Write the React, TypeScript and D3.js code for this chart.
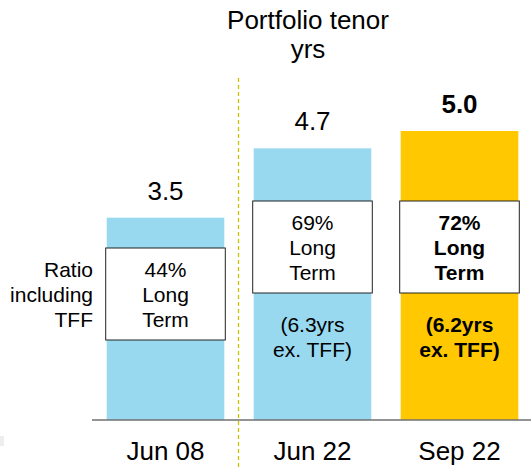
import React from "react";
import * as d3 from "d3";

const categories = ["Jun 08", "Jun 22", "Sep 22"];
const tenor = [3.5, 4.7, 5.0];
const longTermPct = ["44%", "69%", "72%"];
const exTff = ["", "(6.3yrs", "(6.2yrs"];
const barColors = ["#99D9F0", "#99D9F0", "#FFC800"];
const highlight = [false, false, true];

const W = 531;
const H = 469;
const FONT = "Liberation Sans, Arial, sans-serif";

export default function App() {
  const x = d3.scaleBand().domain(categories).range([92, 533]).paddingInner(0.2).paddingOuter(0.1);
  const y = d3.scaleLinear().domain([0, 5]).range([420, 131]);
  const bw = x.bandwidth();

  return (
    <svg width={W} height={H} style={{ position: "absolute", left: 0, top: 0, fontFamily: FONT }}>
      <text x={308} y={29} textAnchor="middle" fontSize={26} fill="#000">Portfolio tenor</text>
      <text x={308} y={58} textAnchor="middle" fontSize={26} fill="#000">yrs</text>

      <line x1={238.5} x2={238.5} y1={78} y2={469} stroke="#C8C000" strokeWidth={1.3} strokeDasharray="4,3" />

      {categories.map((c, i) => {
        const x0 = x(c)!;
        const cx = x0 + bw / 2;
        const top = y(tenor[i]);
        const boxY = i === 0 ? 248 : 201;
        const bold = highlight[i] ? "bold" : "normal";
        return (
          <g key={c}>
            <rect x={x0} y={top} width={bw} height={420 - top} fill={barColors[i]} />
            <text x={cx} y={top - 18} textAnchor="middle" fontSize={26} fontWeight={bold} fill="#000">
              {tenor[i].toFixed(1)}
            </text>
            <rect x={x0 - 1} y={boxY} width={bw + 2} height={92} fill="#fff" stroke="#222" strokeWidth={1} />
            <text x={cx} y={boxY + 29} textAnchor="middle" fontSize={21} fontWeight={bold}>{longTermPct[i]}</text>
            <text x={cx} y={boxY + 54} textAnchor="middle" fontSize={21} fontWeight={bold}>Long</text>
            <text x={cx} y={boxY + 79} textAnchor="middle" fontSize={21} fontWeight={bold}>Term</text>
            {exTff[i] && (
              <g>
                <text x={cx} y={332} textAnchor="middle" fontSize={21} fontWeight={bold}>{exTff[i]}</text>
                <text x={cx} y={357} textAnchor="middle" fontSize={21} fontWeight={bold}>ex. TFF)</text>
              </g>
            )}
            <text x={cx} y={460} textAnchor="middle" fontSize={26} fill="#000">{c}</text>
          </g>
        );
      })}

      <line x1={92} x2={531} y1={420} y2={420} stroke="#707070" strokeWidth={1.5} />

      <text x={93} y={277} textAnchor="end" fontSize={21}>Ratio</text>
      <text x={93} y={302} textAnchor="end" fontSize={21}>including</text>
      <text x={93} y={327} textAnchor="end" fontSize={21}>TFF</text>

      <rect x={0} y={436} width={4} height={10} fill="#eee" />
    </svg>
  );
}
